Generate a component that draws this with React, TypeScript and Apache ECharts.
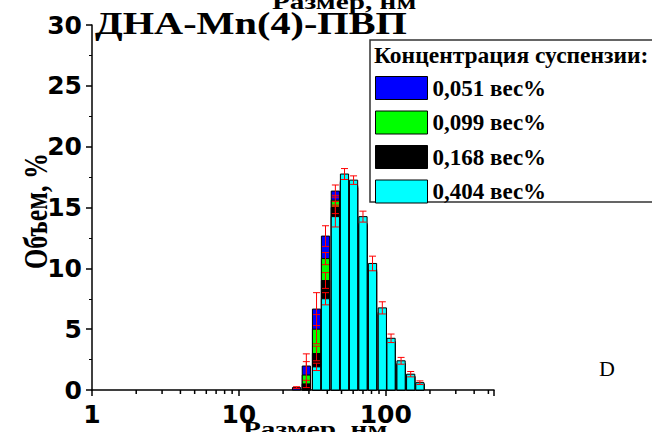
import React, { useEffect, useRef } from "react";
import * as echarts from "echarts";

// Particle size bins (nm), log-spaced
const sizes = [24.7, 28.8, 33.8, 38.9, 45.4, 52.4, 60.4, 70.0, 81.3, 94.8, 108.7, 127.2, 147.9, 170.9];

const seriesNames = ["0,051 вес%", "0,099 вес%", "0,168 вес%", "0,404 вес%"];
const seriesColors = ["#0000ff", "#00ff00", "#000000", "#00ffff"];

// Volume, % and its error per concentration
const vol051 = [0.2, 1.97, 6.65, 12.65, 16.35, 17.2, 16.7, 13.6, 9.7, 6.2, 3.8, 2.1, 1.1, 0.5];
const err051 = [0.07, 1.0, 1.35, 0.85, 0.5, 0.4, 0.4, 0.4, 0.4, 0.3, 0.3, 0.2, 0.1, 0.05];
const vol099 = [0, 1.23, 5.0, 10.8, 15.6, 17.0, 16.6, 13.5, 9.8, 6.3, 3.9, 2.1, 1.1, 0.5];
const err099 = [0, 1.1, 1.2, 0.5, 0.4, 0.4, 0.4, 0.4, 0.4, 0.3, 0.2, 0.15, 0.1, 0.05];
const vol168 = [0, 0.5, 3.0, 9.0, 15.0, 17.1, 16.8, 13.7, 9.9, 6.4, 4.0, 2.2, 1.15, 0.5];
const err168 = [0, 0.3, 0.6, 0.65, 0.5, 0.35, 0.3, 0.3, 0.3, 0.25, 0.2, 0.15, 0.1, 0.05];
const vol404 = [0, 0, 1.9, 7.5, 14.25, 17.75, 17.25, 14.25, 10.4, 6.75, 4.25, 2.4, 1.3, 0.6];
const err404 = [0, 0, 0.3, 0.5, 0.85, 0.45, 0.35, 0.45, 0.6, 0.5, 0.35, 0.28, 0.22, 0.15];

const volumes = [vol051, vol099, vol168, vol404];
const errors = [err051, err099, err168, err404];

const xMajorTicks = [1, 10, 100];
const xMinorTicks = [2, 3, 4, 5, 6, 7, 8, 9, 20, 30, 40, 50, 60, 70, 80, 90, 200, 300, 400, 500];

const title = "ДНА-Mn(4)-ПВП";
const xName = "Размер, нм";
const yName = "Объем, %";
const legendTitle = "Концентрация суспензии:";

const SERIF = '"Liberation Serif", "Times New Roman", serif';
const SANS = '"DejaVu Sans", Arial, sans-serif';
const BAR_HALF = 0.028; // half bar width, decades
const CAP = 3.5;

export default function App() {
  const ref = useRef<HTMLDivElement>(null);
  useEffect(() => {
    if (!ref.current) return;
    const chart = echarts.init(ref.current, null, { renderer: "svg" });

    const makeRender = (color: string) => (params: any, api: any) => {
      const d = api.value(0);
      const v = api.value(1);
      const e = api.value(2);
      const f = Math.pow(10, BAR_HALF);
      const p0 = api.coord([d / f, 0]);
      const p1 = api.coord([d * f, v]);
      const children: any[] = [];
      if (v > 0) {
        children.push({
          type: "rect",
          shape: { x: p0[0], y: p1[1], width: p1[0] - p0[0], height: p0[1] - p1[1] },
          style: { fill: color, stroke: "#000", lineWidth: 1 },
        });
      }
      if (e > 0) {
        const c = api.coord([d, v]);
        const hi = api.coord([d, v + e])[1];
        const lo = api.coord([d, Math.max(0, v - e)])[1];
        const st = { stroke: "#ff0000", lineWidth: 1 };
        children.push({ type: "line", shape: { x1: c[0], y1: hi, x2: c[0], y2: lo }, style: st });
        children.push({ type: "line", shape: { x1: c[0] - CAP, y1: hi, x2: c[0] + CAP, y2: hi }, style: st });
        children.push({ type: "line", shape: { x1: c[0] - CAP, y1: lo, x2: c[0] + CAP, y2: lo }, style: st });
      }
      return { type: "group", children };
    };

    const barSeries = seriesNames.map((name, i) => ({
      name,
      type: "custom",
      z: 2 + i,
      itemStyle: { color: seriesColors[i] },
      encode: { x: 0, y: 1 },
      renderItem: makeRender(seriesColors[i]),
      data: sizes.map((s, k) => [s, volumes[i][k], errors[i][k]]),
    }));

    const minorTickSeries = {
      type: "custom",
      name: "minorTicks",
      silent: true,
      clip: false,
      z: 10,
      encode: { x: 0, y: 1 },
      renderItem: (params: any, api: any) => {
        const p = api.coord([api.value(0), 0]);
        return {
          type: "line",
          shape: { x1: p[0], y1: p[1], x2: p[0], y2: p[1] + 4 },
          style: { stroke: "#000", lineWidth: 1.5 },
        };
      },
      data: xMinorTicks.map((t) => [t, 0]),
    };

    const tickLabelStyle = {
      color: "#000",
      fontFamily: SANS,
      fontWeight: "bold",
      fontSize: 25,
    };

    const legendRows = seriesNames.map((n, i) => ({
      name: n,
      icon: "rect",
      itemStyle: { color: seriesColors[i], borderColor: "#000", borderWidth: 1 },
    }));

    chart.setOption({
      animation: false,
      grid: { left: 92, right: 158, top: 25, bottom: 42 },
      xAxis: {
        type: "log",
        logBase: 10,
        min: 1,
        max: 546,
        axisLine: { lineStyle: { color: "#000", width: 1.5 } },
        axisTick: { length: 6, lineStyle: { color: "#000", width: 1.5 } },
        axisLabel: {
          ...tickLabelStyle,
          margin: 12,
          formatter: (v: number) => {
            const r = xMajorTicks.find((t) => Math.abs(t - v) < 1e-6 * t);
            return r !== undefined ? String(r) : "";
          },
        },
        splitLine: { show: false },
        minorTick: { show: false },
      },
      yAxis: {
        type: "value",
        min: 0,
        max: 30,
        interval: 5,
        axisLine: { show: true, lineStyle: { color: "#000", width: 1.5 } },
        axisTick: { show: true, length: 6, lineStyle: { color: "#000", width: 1.5 } },
        minorTick: { show: true, splitNumber: 2, length: 3, lineStyle: { color: "#000", width: 1 } },
        axisLabel: { ...tickLabelStyle, margin: 10 },
        splitLine: { show: false },
      },
      legend: {
        data: legendRows,
        orient: "vertical",
        left: 375,
        top: 76,
        padding: 0,
        itemWidth: 52,
        itemHeight: 23,
        itemGap: 10.5,
        selectedMode: false,
        textStyle: { color: "#000", fontFamily: SERIF, fontWeight: "bold", fontSize: 23 },
      },
      graphic: [
        {
          type: "rect",
          z: 0,
          shape: { x: 370, y: 40, width: 300, height: 162 },
          style: { fill: "#fff", stroke: "#333", lineWidth: 1.5 },
        },
        {
          type: "text",
          z: 1,
          x: 374,
          y: 55,
          style: { text: legendTitle, fill: "#000", font: `bold 23.5px ${SERIF}`, align: "left", verticalAlign: "middle" },
        },
        {
          type: "text",
          x: 95,
          y: 24,
          scaleX: 1.3,
          style: { text: title, fill: "#000", font: `bold 31px ${SERIF}`, align: "left", verticalAlign: "middle" },
        },
        {
          type: "text",
          x: 272,
          y: 2,
          scaleX: 1.33,
          style: { text: xName, fill: "#000", font: `bold 22px ${SERIF}`, align: "left", verticalAlign: "middle" },
        },
        {
          type: "text",
          x: 243,
          y: 429,
          scaleX: 1.33,
          style: { text: xName, fill: "#000", font: `bold 22px ${SERIF}`, align: "left", verticalAlign: "middle" },
        },
        {
          type: "text",
          x: 36,
          y: 211,
          rotation: Math.PI / 2,
          scaleY: 1.3,
          style: { text: yName, fill: "#000", font: `bold 26px ${SERIF}`, align: "center", verticalAlign: "middle" },
        },
        {
          type: "text",
          x: 607,
          y: 368,
          style: { text: "D", fill: "#000", font: `22px ${SERIF}`, align: "center", verticalAlign: "middle" },
        },
      ],
      series: [...barSeries, minorTickSeries],
    });
    return () => chart.dispose();
  }, []);
  return (
    <div
      ref={ref}
      style={{ position: "absolute", left: 0, top: 0, width: 652, height: 432, background: "#fff" }}
    />
  );
}
